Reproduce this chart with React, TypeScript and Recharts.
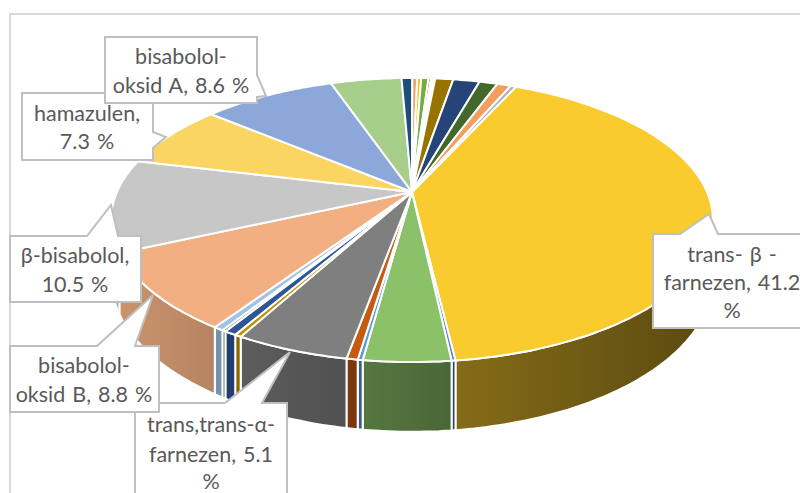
import { Pie, PieChart } from "recharts";

const names = [
  "trans-β-farnezen", "a1", "a2", "a3", "a4", "trans,trans-α-farnezen", "a6", "a7", "a8", "a9",
  "bisabolol-oksid B", "β-bisabolol", "hamazulen", "bisabolol-oksid A", "a14", "a15", "a16", "a17",
  "a18", "a19", "a20", "a21", "a22", "a23", "a24", "a25", "a26",
];
const values = [
  41.2, 0.17, 3.86, 0.22, 0.5, 5.1, 0.3, 0.55, 0.17, 0.45, 8.8, 10.5, 7.3, 8.6, 4.6, 0.7, 0.32, 0.26,
  0.47, 0.17, 0.13, 0.13, 1.17, 1.72, 1.17, 0.9, 0.36,
];
const colors = [
  "#FACB2E", "#5B7FC9", "#8BC168", "#5B9BD5", "#C55A11", "#7F7F7F", "#BF9000", "#2F5597", "#548235", "#9DC3E6",
  "#F2AF82", "#C7C7C7", "#FBD561", "#8CA7D9", "#A8CE8B", "#1F4E79", "#F4A36B", "#FFC000", "#70AD47", "#C55A11",
  "#A5A5A5", "#44546A", "#997300", "#264478", "#43682B", "#F29E5E", "#B0B0B0",
];
const labelLines: Record<number, string[]> = {
  0: ["trans- β -", "farnezen, 41.2", "%"],
  5: ["trans,trans-α-", "farnezen, 5.1", "%"],
  10: ["bisabolol-", "oksid B, 8.8 %"],
  11: ["β-bisabolol,", "10.5 %"],
  12: ["hamazulen,", "7.3 %"],
  13: ["bisabolol-", "oksid A, 8.6 %"],
};

const data = names.map((name, i) => ({ name, value: values[i], fill: colors[i] }));

// callout boxes: outline points, text centre, text baselines
const callouts: Record<number, { outline: number[][]; tx: number; ys: number[] }> = {
  0: { outline: [[653, 234], [680, 234], [709, 214], [718, 234], [812, 234], [812, 328], [653, 328]], tx: 732, ys: [262, 290, 318] },
  5: { outline: [[135, 403], [225, 403], [290, 352], [262, 403], [287, 403], [287, 510], [135, 510]], tx: 211, ys: [432, 462, 489] },
  10: { outline: [[10, 346], [97, 346], [153, 295], [135, 346], [159, 346], [159, 412], [10, 412]], tx: 84, ys: [373, 402] },
  11: { outline: [[10, 236], [87, 236], [111, 205], [118, 236], [141, 236], [141, 302], [10, 302]], tx: 75, ys: [263, 292] },
  12: { outline: [[22, 93], [153, 93], [153, 132], [166, 137], [153, 148], [153, 160], [22, 160]], tx: 87, ys: [121, 149] },
  13: { outline: [[105, 37], [257, 37], [257, 75], [266, 96], [257, 97], [257, 103], [105, 103]], tx: 181, ys: [64, 93] },
};

// the 3D view of the disc: lean, perspective and wall height relative to the radius
const LEAN = 0.4627;
const PERSPECTIVE = 0.197;
const WALL = 0.19;

function project(p: any, deg: number, down: number) {
  const rad = (deg * Math.PI) / 180;
  const w = 1 + PERSPECTIVE * Math.sin(rad);
  return [
    p.cx + (p.outerRadius * Math.cos(rad)) / w,
    p.cy + (p.outerRadius * (-LEAN * Math.sin(rad) + down)) / w,
  ];
}

function rim(p: any, down: number) {
  const steps = Math.max(2, Math.ceil(Math.abs(p.endAngle - p.startAngle)));
  const pts = [];
  for (let i = 0; i <= steps; i++) {
    pts.push(project(p, p.startAngle + ((p.endAngle - p.startAngle) * i) / steps, down));
  }
  return pts;
}

const toPath = (pts: number[][]) => "M" + pts.map((q) => q[0].toFixed(1) + "," + q[1].toFixed(1)).join("L") + "Z";

function shade(hex: string, x: number) {
  const f = Math.max(0.36, 0.84 - (x - 120) * 0.00092);
  const c = [1, 3, 5].map((i) => Math.round(parseInt(hex.slice(i, i + 2), 16) * f));
  return `rgb(${c.join(",")})`;
}

function TopFace(p: any) {
  return <path d={toPath([[p.cx, p.cy], ...rim(p, 0)])} fill={p.fill} stroke="#fff" strokeWidth={2} strokeLinejoin="round" />;
}

function WallFace(p: any) {
  const top = rim(p, 0);
  const bottom = rim(p, WALL).reverse();
  const xs = top.map((q) => q[0]);
  const id = "wall" + Math.round(Math.abs(p.startAngle) * 100);
  return (
    <g>
      <defs>
        <linearGradient id={id} x1="0" x2="1" y1="0" y2="0">
          <stop offset="0" stopColor={shade(p.fill, Math.min(...xs))} />
          <stop offset="1" stopColor={shade(p.fill, Math.max(...xs))} />
        </linearGradient>
      </defs>
      <path d={toPath([...top, ...bottom])} fill={`url(#${id})`} stroke="#fff" strokeWidth={2} strokeLinejoin="round" />
    </g>
  );
}

function Callout(p: any) {
  const lines = labelLines[p.index];
  const box = callouts[p.index];
  if (!lines || !box) return <g />;
  return (
    <g>
      <path d={toPath(box.outline)} fill="#fff" stroke="#BFBFBF" strokeWidth={2} />
      {lines.map((line, i) => (
        <text
          key={line}
          x={box.tx}
          y={box.ys[i]}
          textAnchor="middle"
          fontFamily="Lato, 'Open Sans', sans-serif"
          fontSize={21.5}
          wordSpacing={1.5}
          fill="#595959"
        >
          {line}
        </text>
      ))}
    </g>
  );
}

export default function App() {
  return (
    <div style={{ position: "fixed", left: 0, top: 0, width: 800, height: 493, overflow: "hidden", background: "#fff" }}>
      <div style={{ position: "absolute", left: 9, top: 13, width: 900, height: 600, border: "2px solid #D9D9D9" }} />
      <div style={{ position: "absolute", left: 0, top: 0 }}>
        <PieChart width={800} height={493} margin={{ top: 0, right: 0, bottom: 0, left: 0 }}>
          <Pie
            data={data}
            dataKey="value"
            nameKey="name"
            cx={412}
            cy={192}
            outerRadius={295}
            startAngle={65.4}
            endAngle={-294.6}
            shape={WallFace}
            isAnimationActive={false}
          />
          <Pie
            data={data}
            dataKey="value"
            nameKey="name"
            cx={412}
            cy={192}
            outerRadius={295}
            startAngle={65.4}
            endAngle={-294.6}
            shape={TopFace}
            label={Callout}
            labelLine={false}
            isAnimationActive={false}
          />
        </PieChart>
      </div>
    </div>
  );
}
